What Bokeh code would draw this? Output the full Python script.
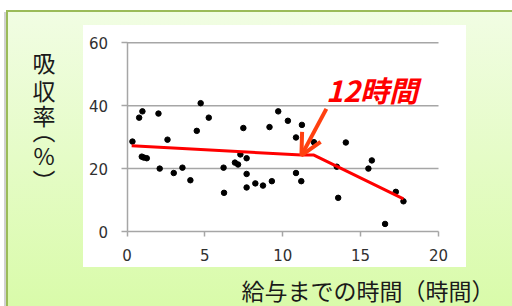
from bokeh.plotting import figure
from bokeh.models import Range1d, Label, Arrow, OpenHead, FixedTicker
from bokeh.embed import file_html
from bokeh.resources import INLINE

# ---- data ----
hours = [0.35, 0.78, 0.99, 0.95, 1.08, 1.27, 2.02, 2.1, 2.6, 3.0, 3.56, 4.07, 4.48, 4.73, 5.25,
         6.2, 6.23, 6.93, 7.13, 7.28, 7.47, 7.68, 7.68, 7.68, 8.24, 8.73, 9.15, 9.3, 9.71,
         10.33, 10.85, 10.85, 11.19, 11.23, 12.0, 13.47, 13.56, 14.05, 15.5, 15.72, 16.57,
         17.26, 17.75]
absorption = [28.6, 36.2, 38.2, 23.8, 23.5, 23.3, 37.5, 20.0, 29.2, 18.6, 20.3, 16.3, 32.0, 40.8, 36.2,
              20.3, 12.3, 21.9, 21.3, 24.5, 32.9, 23.3, 18.3, 14.0, 15.3, 14.6, 33.2, 16.0, 38.2,
              35.2, 29.9, 18.6, 16.0, 33.9, 28.4, 20.6, 10.7, 28.3, 20.0, 22.6, 2.4,
              12.6, 9.6]
trend_x = [0.3, 11.2, 12.0, 17.75]
trend_y = [27.3, 24.3, 24.3, 10.4]
x_ticks = [0, 5, 10, 15, 20]
y_ticks = [0, 20, 40, 60]
x_bounds = (0, 20)
y_bounds = (0, 60)
arrow_from = (12.8, 39.0)
arrow_to = (11.2, 24.2)
callout_text = "12時間"
x_title = "給与までの時間（時間）"
y_title_chars = ["吸", "収", "率", "︵", "%", "︶"]

JP = "Noto Sans CJK JP"
W, H = 512, 306
# page-pixel placement of the axes box (x: 0..20 -> 126.5..438, y: 0..60 -> 231..42.3)
PX0, PX1, PY0, PY1 = 126.5, 438.0, 231.0, 42.3
sx = (PX1 - PX0) / (x_bounds[1] - x_bounds[0])
sy = (PY0 - PY1) / (y_bounds[1] - y_bounds[0])


def dx(px):
    return x_bounds[0] + (px - PX0) / sx


def dy(py):
    return y_bounds[0] + (PY0 - py) / sy


bg = ("linear-gradient(#ffffff,#ffffff) 83px 25px / 383px 242px no-repeat, "
      "linear-gradient(#9bbb59,#9bbb59) 6px 10px / 100% 2px no-repeat, "
      "linear-gradient(#9bbb59,#9bbb59) 6px 10px / 2px 100% no-repeat, "
      "linear-gradient(rgba(0,0,0,0.18),rgba(0,0,0,0.18)) 4px 12px / 2px 100% no-repeat, "
      "linear-gradient(#f1fde3,#d9fbaa) 8px 12px / 100% 294px no-repeat, #ffffff")

p = figure(width=W, height=H, output_backend="svg", toolbar_location=None,
           x_range=Range1d(dx(0), dx(W)), y_range=Range1d(dy(H), dy(0)),
           min_border=0, min_border_left=0, min_border_right=0, min_border_top=0, min_border_bottom=0,
           border_fill_color=None, background_fill_color=None, outline_line_color=None,
           styles={"background": bg})

for ax, ticks, bnd in ((p.xaxis[0], x_ticks, x_bounds), (p.yaxis[0], y_ticks, y_bounds)):
    ax.ticker = FixedTicker(ticks=ticks)
    ax.bounds = bnd
    ax.fixed_location = 0
    ax.axis_line_color = "#a6a6a6"
    ax.axis_line_width = 1.5
    ax.major_tick_line_color = "#a6a6a6"
    ax.major_tick_line_width = 1.5
    ax.major_tick_in = 0
    ax.minor_tick_line_color = None
    ax.major_label_text_font = "DejaVu Sans"
    ax.major_label_text_font_size = "15px"
    ax.major_label_text_color = "#303030"
p.xaxis.major_tick_out = 5
p.yaxis.major_tick_out = 6
p.xaxis.major_label_standoff = 12
p.yaxis.major_label_standoff = 13

p.xgrid.grid_line_color = None
p.ygrid.grid_line_color = None
# horizontal gridlines at the y ticks, spanning the x bounds
grid_y = [t for t in y_ticks if t > y_bounds[0]]
p.segment(x0=[x_bounds[0]] * len(grid_y), x1=[x_bounds[1]] * len(grid_y), y0=grid_y, y1=grid_y,
          line_color="#a6a6a6", line_width=1.5)

p.scatter(hours, absorption, size=5.5, color="black")
p.line(trend_x, trend_y, line_color="#ff0000", line_width=3)

arrow_col = "#ff4010"
p.add_layout(Arrow(end=OpenHead(size=21, line_color=arrow_col, line_width=4),
                   x_start=arrow_from[0], y_start=arrow_from[1],
                   x_end=arrow_to[0], y_end=arrow_to[1],
                   line_color=arrow_col, line_width=4))

p.add_layout(Label(x=dx(371.5), y=dy(88), text=callout_text, text_font=JP, text_font_size="29px",
                   text_font_style="bold italic", text_color="#ff0000",
                   text_align="center", text_baseline="middle"))

p.add_layout(Label(x=dx(367.5), y=dy(289.5), text=x_title,
                   text_font=JP, text_font_size="23px", text_color="#1a1a1a",
                   text_align="center", text_baseline="middle"))

# vertical title: the vertical-form brackets sit off-centre in their em box, hence the offsets
y_pos = [61, 89, 114, 129, 154, 179]
for ch, yy in zip(y_title_chars, y_pos):
    p.add_layout(Label(x=dx(43.5), y=dy(yy), text=ch,
                       text_font=JP, text_font_size="23px", text_color="#1a1a1a",
                       text_align="center", text_baseline="middle"))

open("out.html", "w").write(file_html(p, INLINE))
